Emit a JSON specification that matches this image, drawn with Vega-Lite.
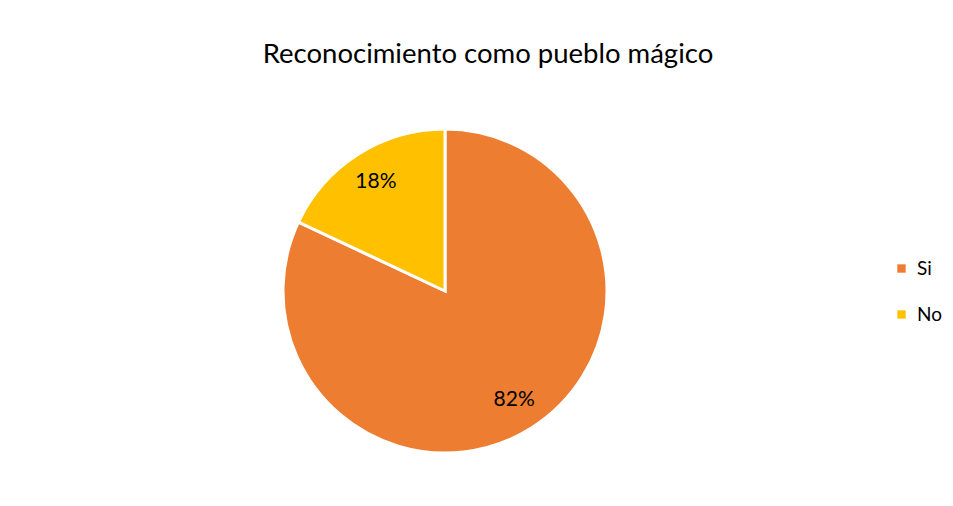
{
  "$schema": "https://vega.github.io/schema/vega-lite/v6.json",
  "autosize": "none",
  "width": 340,
  "height": 340,
  "padding": {"left": 275, "top": 121, "right": 338, "bottom": 45},
  "background": "white",
  "title": {
    "text": "Reconocimiento como pueblo mágico",
    "font": "Lato",
    "fontSize": 27.5,
    "fontWeight": "normal",
    "color": "#000000",
    "anchor": "middle",
    "dx": 43,
    "offset": 53
  },
  "data": {
    "values": [
      {"respuesta": "Si", "proporcion": 0.82, "orden": 1},
      {"respuesta": "No", "proporcion": 0.18, "orden": 2}
    ]
  },
  "encoding": {
    "theta": {"field": "proporcion", "type": "quantitative", "stack": true},
    "order": {"field": "orden", "type": "quantitative"}
  },
  "layer": [
    {
      "mark": {"type": "arc", "outerRadius": 162, "stroke": "white", "strokeWidth": 3},
      "encoding": {
        "color": {
          "field": "respuesta",
          "type": "nominal",
          "scale": {"domain": ["Si", "No"], "range": ["#ED7D31", "#FFC000"]},
          "legend": {
            "title": null,
            "orient": "none",
            "legendX": 617,
            "legendY": 138,
            "symbolType": "square",
            "symbolSize": 70,
            "symbolStrokeWidth": 0,
            "labelFont": "Lato",
            "labelFontSize": 19,
            "labelColor": "#000000",
            "labelOffset": 6,
            "rowPadding": 26
          }
        }
      }
    },
    {
      "mark": {"type": "text", "radius": 129, "font": "Lato", "fontSize": 21, "color": "#000000"},
      "encoding": {
        "text": {"field": "proporcion", "type": "quantitative", "format": ".0%"}
      }
    }
  ],
  "config": {"view": {"stroke": null}}
}
